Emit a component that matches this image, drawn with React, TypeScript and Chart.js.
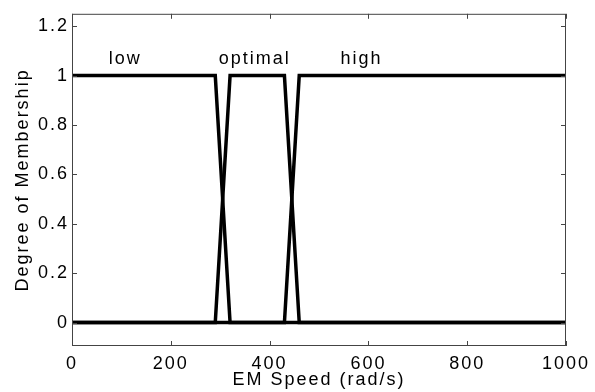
import React, { useEffect, useRef } from "react";
import { Chart, registerables } from "chart.js";

Chart.register(...registerables);

// ---- data ----
const lowX = [0, 290, 320, 1000];
const lowY = [1, 1, 0, 0];
const optimalX = [0, 290, 320, 430, 460, 1000];
const optimalY = [0, 0, 1, 1, 0, 0];
const highX = [0, 430, 460, 1000];
const highY = [0, 0, 1, 1];

const xTicks = [0, 200, 400, 600, 800, 1000];
const yTicks = [0, 0.2, 0.4, 0.6, 0.8, 1, 1.2];

const labelTexts = ["low", "optimal", "high"];
const labelX = [108, 370, 586];
const labelY = [1.045, 1.045, 1.045];

const xTitle = "EM Speed (rad/s)";
const yTitle = "Degree of Membership";

const FONT = '"Liberation Sans", Arial, Helvetica, sans-serif';

function pts(xs: number[], ys: number[]) {
  return xs.map((x, i) => ({ x, y: ys[i] }));
}

const framePlugin = {
  id: "frame",
  beforeDraw(chart: any) {
    chart.ctx.letterSpacing = "2px";
  },
  afterDraw(chart: any) {
    const ctx = chart.ctx;
    const { left, right, top, bottom } = chart.chartArea;
    const xs = chart.scales.x;
    const ys = chart.scales.y;
    ctx.save();
    ctx.strokeStyle = "#444";
    ctx.lineWidth = 1;
    ctx.strokeRect(left + 0.5, top + 0.5, right - left - 1, bottom - top - 1);
    const tl = 5;
    ctx.beginPath();
    xTicks.forEach((v) => {
      const px = Math.round(xs.getPixelForValue(v)) + 0.5;
      ctx.moveTo(px, bottom);
      ctx.lineTo(px, bottom - tl);
      ctx.moveTo(px, top);
      ctx.lineTo(px, top + tl);
    });
    yTicks.forEach((v) => {
      const py = Math.round(ys.getPixelForValue(v)) + 0.5;
      ctx.moveTo(left, py);
      ctx.lineTo(left + tl, py);
      ctx.moveTo(right, py);
      ctx.lineTo(right - tl, py);
    });
    ctx.stroke();

    ctx.fillStyle = "#000";
    ctx.letterSpacing = "2px";
    ctx.font = `18px ${FONT}`;
    ctx.textAlign = "center";
    ctx.textBaseline = "alphabetic";
    labelTexts.forEach((t, i) => {
      ctx.fillText(t, xs.getPixelForValue(labelX[i]), ys.getPixelForValue(labelY[i]));
    });

    ctx.fillText(xTitle, (left + right) / 2, 385);
    ctx.translate(28, (top + bottom) / 2);
    ctx.rotate(-Math.PI / 2);
    ctx.fillText(yTitle, 0, 0);
    ctx.restore();
  },
};

export default function App() {
  const ref = useRef<HTMLCanvasElement | null>(null);
  useEffect(() => {
    if (!ref.current) return;
    const line = (label: string, data: any) => ({
      label,
      data,
      borderColor: "#000",
      backgroundColor: "#000",
      borderWidth: 3.5,
      pointRadius: 0,
      tension: 0,
      fill: false,
    });
    const chart = new Chart(ref.current, {
      type: "line",
      data: {
        datasets: [
          line("low", pts(lowX, lowY)),
          line("optimal", pts(optimalX, optimalY)),
          line("high", pts(highX, highY)),
        ],
      },
      options: {
        animation: false,
        responsive: true,
        maintainAspectRatio: false,
        devicePixelRatio: 1,
        layout: { padding: { top: 13, right: 29, left: 0, bottom: 0 } },
        plugins: { legend: { display: false }, tooltip: { enabled: false } },
        scales: {
          x: {
            type: "linear",
            min: 0,
            max: 1000,
            afterBuildTicks: (s: any) => {
              s.ticks = xTicks.map((v) => ({ value: v }));
            },
            afterFit: (s: any) => {
              s.height = 46;
            },
            ticks: {
              color: "#000",
              font: { size: 18, family: FONT },
              padding: 7,
              maxRotation: 0,
              autoSkip: false,
              callback: (v: any) => String(v),
            },
            grid: { display: false, drawTicks: false },
            border: { display: false },
          },
          y: {
            type: "linear",
            min: -0.095,
            max: 1.25,
            afterBuildTicks: (s: any) => {
              s.ticks = yTicks.map((v) => ({ value: v }));
            },
            afterFit: (s: any) => {
              s.width = 72;
            },
            ticks: {
              color: "#000",
              font: { size: 18, family: FONT },
              padding: 3,
              autoSkip: false,
              callback: (v: any) => String(Number(Number(v).toFixed(1))),
            },
            grid: { display: false, drawTicks: false },
            border: { display: false },
          },
        },
      },
      plugins: [framePlugin],
    });
    return () => chart.destroy();
  }, []);
  return (
    <div style={{ position: "absolute", left: 0, top: 0, width: 595, height: 392, background: "#fff" }}>
      <canvas ref={ref} />
    </div>
  );
}
